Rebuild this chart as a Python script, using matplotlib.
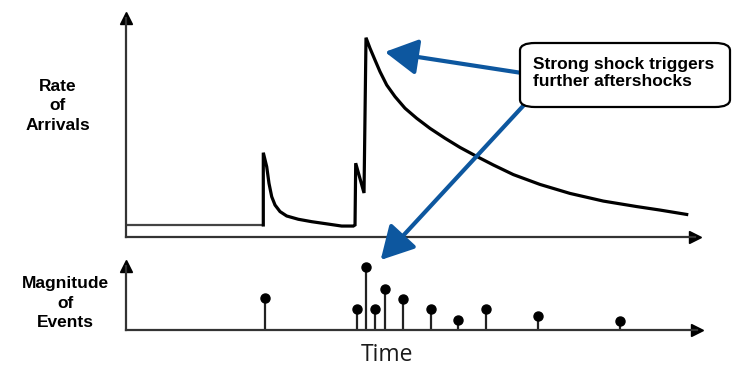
import matplotlib
matplotlib.use("Agg")
import matplotlib.pyplot as plt
from matplotlib.patches import FancyBboxPatch

# ---- data (time in arbitrary units 0..100, rate 0..100) ----
base_t = [0.0, 24.13]
base_rate = [5.5, 5.5]

rate_t = [24.13, 24.13, 24.73, 25.13, 25.61, 26.19, 27.07, 28.24, 30.28,
          32.62, 35.55, 37.90, 39.95, 40.25, 40.37, 41.83, 42.18, 42.88,
          43.76, 44.64, 45.82, 47.28, 49.03, 51.09, 53.43, 56.06, 58.70,
          61.63, 64.55, 68.07, 72.76, 78.03, 83.89, 89.75, 93.85, 98.54]
rate_v = [5.5, 38.5, 32.1, 24.5, 18.4, 14.6, 11.6, 9.6, 8.1,
          7.0, 5.9, 5.0, 5.0, 5.5, 33.7, 20.1, 91.0, 86.2,
          80.8, 75.5, 69.4, 64.1, 58.8, 54.2, 49.6, 45.1, 40.9,
          36.8, 32.9, 28.5, 24.0, 19.9, 16.4, 13.9, 12.3, 10.3]

event_t = [24.3, 40.4, 42.0, 43.6, 45.3, 48.5, 53.4, 58.2, 63.1, 72.1, 86.6]
event_mag = [32, 21, 63, 21, 41, 31, 21, 10, 21, 14, 9]

W, H = 747, 377
fig = plt.figure(figsize=(W / 100, H / 100), dpi=100)

def fx(px):
    return px / W

def fy(py):
    return 1 - py / H

axis_col = "#333333"

# top panel
ax1 = fig.add_axes([fx(126), fy(237), fx(695) - fx(126), fy(18) - fy(237)])
ax1.set_xlim(0, 100)
ax1.set_ylim(0, 100)
ax1.plot(base_t, base_rate, color="#444444", lw=1.6, solid_capstyle="butt")
ax1.plot(rate_t, rate_v, color="black", lw=2.3, solid_joinstyle="miter")

# bottom panel
ax2 = fig.add_axes([fx(126), fy(330), fx(697) - fx(126), fy(266) - fy(330)])
ax2.set_xlim(0, 100)
ax2.set_ylim(0, 64)
ax2.vlines(event_t, 0, event_mag, color="#222222", lw=1.6)
ax2.plot(event_t, event_mag, "o", color="black", ms=6.5, clip_on=False)

for ax in (ax1, ax2):
    for s in ("top", "right"):
        ax.spines[s].set_visible(False)
    for s in ("left", "bottom"):
        ax.spines[s].set_color(axis_col)
        ax.spines[s].set_linewidth(1.6)
    ax.set_xticks([])
    ax.set_yticks([])
    ax.patch.set_alpha(0)
    ax.plot(1, 0, ">", color="black", ms=9, transform=ax.transAxes, clip_on=False)
    ax.plot(0, 1, "^", color="black", ms=9, transform=ax.transAxes, clip_on=False)

# labels
fig.text(fx(58), fy(106), "Rate\nof\nArrivals", ha="center", va="center",
         fontsize=12.5, fontweight="bold", family="Liberation Sans", linespacing=1.38)
fig.text(fx(65), fy(303), "Magnitude\nof\nEvents", ha="center", va="center",
         fontsize=12.5, fontweight="bold", family="Liberation Sans", linespacing=1.38)
fig.text(fx(387), fy(355), "Time", ha="center", va="center",
         fontsize=16.5, family="Open Sans", color="#1a1a1a")

# callout box
box = FancyBboxPatch((fx(520), fy(107)), fx(730) - fx(520), fy(43) - fy(107),
                     boxstyle="round,pad=0,rounding_size=0.02",
                     transform=fig.transFigure, facecolor="white",
                     edgecolor="black", lw=1.6, zorder=5)
fig.add_artist(box)
fig.text(fx(533), fy(73), "Strong shock triggers\nfurther aftershocks",
         ha="left", va="center", multialignment="left", fontsize=12.5,
         fontweight="bold", family="Liberation Sans", linespacing=1.22, zorder=6)

blue = "#0d579f"
ax1.annotate("", xy=(45.5, 84.5), xycoords="data",
             xytext=(fx(522), fy(73)), textcoords="figure fraction",
             arrowprops=dict(arrowstyle="-|>,head_length=1.0,head_width=0.55",
                             color=blue, lw=3, mutation_scale=20,
                             shrinkA=0, shrinkB=0),
             annotation_clip=False)
ax2.annotate("", xy=(44.6, 70), xycoords="data",
             xytext=(fx(524), fy(105)), textcoords="figure fraction",
             arrowprops=dict(arrowstyle="-|>,head_length=1.0,head_width=0.55",
                             color=blue, lw=3, mutation_scale=20,
                             shrinkA=0, shrinkB=0),
             annotation_clip=False)

fig.savefig("out.png", dpi=100, facecolor="white")
